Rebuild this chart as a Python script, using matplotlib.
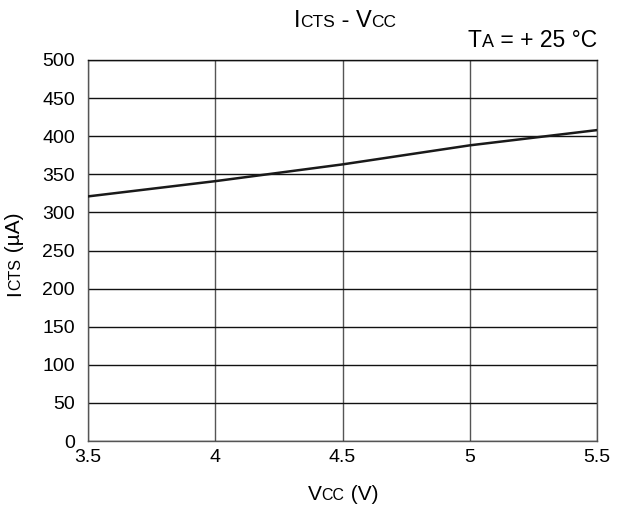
import matplotlib
matplotlib.use("Agg")
import matplotlib.pyplot as plt
from matplotlib.transforms import IdentityTransform

plt.rcParams['font.family'] = ['Liberation Sans', 'DejaVu Sans']

# data
vcc = [3.5, 4.0, 4.5, 5.0, 5.5]
icts = [321, 341, 363, 388, 408]
xticks = [3.5, 4, 4.5, 5, 5.5]
xtick_labels = ['3.5', '4', '4.5', '5', '5.5']
yticks = list(range(0, 501, 50))


def rich(fig, parts, x, y, rotation=0, align='center'):
	# draws a sequence of (text, size) pieces side by side, pixel coords
	r = fig.canvas.get_renderer()
	widths = []
	for s, size in parts:
		t = fig.text(0, 0, s, fontsize=size)
		widths.append(t.get_window_extent(r).width)
		t.remove()
	total = sum(widths)
	start = {'center': -total / 2, 'right': -total, 'left': 0}[align]
	pos = start
	for (s, size), w in zip(parts, widths):
		if rotation == 90:
			fig.text(x, y + pos, s, fontsize=size, rotation=90, rotation_mode='anchor',
				ha='left', va='baseline', transform=IdentityTransform())
		else:
			fig.text(x + pos, y, s, fontsize=size, ha='left', va='baseline',
				transform=IdentityTransform())
		pos += w


fig = plt.figure(figsize=(6.22, 5.08), dpi=100)
ax = fig.add_axes([88/622, 1 - 441/508, (597-88)/622, (441-60)/508])

ax.plot(vcc, icts, color='#1a1a1a', lw=1.8, zorder=3)
ax.set_xlim(3.5, 5.5)
ax.set_ylim(0, 500)
ax.set_xticks(xticks)
ax.set_xticklabels(xtick_labels)
ax.set_yticks(yticks)
ax.tick_params(length=0, labelsize=14)
ax.tick_params(axis='y', pad=9.5)
ax.tick_params(axis='x', pad=6)
ax.yaxis.grid(True, color='#111111', lw=1.0)
ax.xaxis.grid(True, color='#555555', lw=1.0)
for s in ax.spines.values():
	s.set_color('#555555')
	s.set_linewidth(1.0)
ax.spines['top'].set_color('#111111')

H = 508
rich(fig, [('I', 17), ('CTS', 12.5), (' - V', 17), ('CC', 12.5)], 345, H - 27)
rich(fig, [('T', 16.5), ('A', 13), (' = + 25 °C', 16.5)], 597, H - 47, align='right')
rich(fig, [('V', 15), ('CC', 11.5), (' (V)', 15)], 343, H - 500)
rich(fig, [('I', 15), ('CTS', 11.5), (' (µA)', 15)], 20, H - 254, rotation=90)

fig.savefig('out.png', dpi=100)
